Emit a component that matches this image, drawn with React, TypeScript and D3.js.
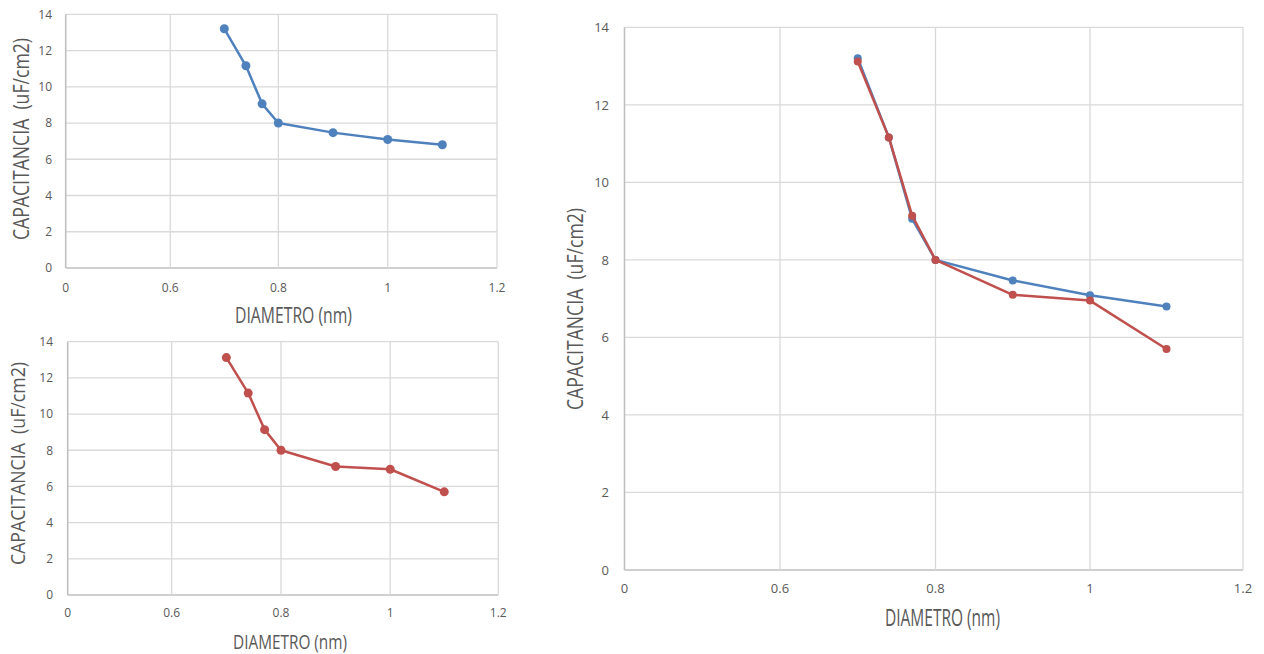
import React from "react";
import * as d3 from "d3";

// Diámetro de poro (nm) y capacitancia específica (uF/cm2)
const diametro = [0.7, 0.74, 0.77, 0.8, 0.9, 1.0, 1.1];
const capacitanciaAzul = [13.2, 11.16, 9.06, 8.0, 7.47, 7.09, 6.8];
const capacitanciaRoja = [13.12, 11.16, 9.14, 8.0, 7.1, 6.95, 5.7];

const xTicks = [0, 0.6, 0.8, 1, 1.2];
const yTicks = [0, 2, 4, 6, 8, 10, 12, 14];

const xTitle = "DIAMETRO (nm)";
const yTitle = "CAPACITANCIA  (uF/cm2)";

const AZUL = "#4f81bd";
const ROJO = "#c0504d";
const GRID = "#d9d9d9";
const AXIS = "#bfbfbf";
const TEXT = "#595959";

type Series = { values: number[]; color: string };

type PanelProps = {
  x0: number;
  x1: number;
  stops: number[]; // fractional position of each x tick across the plot width
  yTop: number;
  yBot: number;
  tickFs: number;
  yTickX: number;
  xTickBase: number;
  xt: { x: number; y: number; fs: number; len: number };
  yt: { x: number; y: number; fs: number; len: number };
  r: number;
  sw: number;
  series: Series[];
};

function Panel(p: PanelProps) {
  // piecewise-linear mapping between the labelled x ticks
  const x = d3
    .scaleLinear()
    .domain(xTicks)
    .range(p.stops.map((f) => p.x0 + f * (p.x1 - p.x0)));
  const y = d3.scaleLinear().domain([0, 14]).range([p.yBot, p.yTop]);
  const line = d3
    .line<number>()
    .x((_, i) => x(diametro[i]))
    .y((v) => y(v));

  return (
    <g>
      {yTicks.map((t) => (
        <line
          key={"gy" + t}
          x1={p.x0}
          x2={p.x1}
          y1={y(t)}
          y2={y(t)}
          stroke={t === 0 ? AXIS : GRID}
          strokeWidth={t === 0 ? 1.6 : 1.3}
        />
      ))}
      {xTicks.map((t) => (
        <line
          key={"gx" + t}
          x1={x(t)}
          x2={x(t)}
          y1={p.yTop}
          y2={p.yBot}
          stroke={t === 0 ? AXIS : GRID}
          strokeWidth={t === 0 ? 1.6 : 1.3}
        />
      ))}
      {yTicks.map((t) => (
        <text
          key={"ty" + t}
          x={p.yTickX}
          y={y(t)}
          dy="0.36em"
          textAnchor="end"
          fontSize={p.tickFs}
          fill={TEXT}
          fontFamily="'Open Sans', sans-serif"
        >
          {t}
        </text>
      ))}
      {xTicks.map((t) => (
        <text
          key={"tx" + t}
          x={x(t)}
          y={p.xTickBase}
          textAnchor="middle"
          fontSize={p.tickFs}
          fill={TEXT}
          fontFamily="'Open Sans', sans-serif"
        >
          {t}
        </text>
      ))}
      <text
        x={p.xt.x}
        y={p.xt.y}
        textAnchor="middle"
        fontSize={p.xt.fs}
        fill={TEXT}
        fontFamily="'Open Sans', sans-serif"
        textLength={p.xt.len}
        lengthAdjust="spacingAndGlyphs"
      >
        {xTitle}
      </text>
      <text
        transform={`translate(${p.yt.x},${p.yt.y}) rotate(-90)`}
        textAnchor="middle"
        fontSize={p.yt.fs}
        fill={TEXT}
        fontFamily="'Open Sans', sans-serif"
        textLength={p.yt.len}
        lengthAdjust="spacingAndGlyphs"
        style={{ whiteSpace: "pre" }}
      >
        {yTitle}
      </text>
      {p.series.map((s, k) => (
        <g key={"s" + k}>
          <path
            d={line(s.values) ?? ""}
            fill="none"
            stroke={s.color}
            strokeWidth={p.sw}
            strokeLinejoin="round"
          />
          {s.values.map((v, i) => (
            <circle key={i} cx={x(diametro[i])} cy={y(v)} r={p.r} fill={s.color} />
          ))}
        </g>
      ))}
    </g>
  );
}

export default function App() {
  const azul = { values: capacitanciaAzul, color: AZUL };
  const roja = { values: capacitanciaRoja, color: ROJO };
  return (
    <svg
      width={1264}
      height={654}
      style={{ position: "absolute", left: 0, top: 0, background: "#fff" }}
    >
      <rect width={1264} height={654} fill="#fff" />
      <Panel
        x0={65.7}
        x1={497}
        stops={[0, 0.2425, 0.493, 0.7466, 1]}
        yTop={14.3}
        yBot={268}
        tickFs={12}
        yTickX={52}
        xTickBase={292}
        xt={{ x: 293.5, y: 323, fs: 21, len: 117 }}
        yt={{ x: 28.5, y: 139, fs: 21, len: 202 }}
        r={4.5}
        sw={2.5}
        series={[azul]}
      />
      <Panel
        x0={67.7}
        x1={498.3}
        stops={[0, 0.2415, 0.4954, 0.749, 1]}
        yTop={341.7}
        yBot={595}
        tickFs={12}
        yTickX={53}
        xTickBase={617}
        xt={{ x: 290, y: 649, fs: 20, len: 114 }}
        yt={{ x: 24.5, y: 463.5, fs: 20, len: 203 }}
        r={4.5}
        sw={2.5}
        series={[roja]}
      />
      <Panel
        x0={624.5}
        x1={1243}
        stops={[0, 0.2514, 0.5028, 0.7526, 1]}
        yTop={27.3}
        yBot={570}
        tickFs={13}
        yTickX={609}
        xTickBase={593}
        xt={{ x: 942.5, y: 626, fs: 24, len: 115 }}
        yt={{ x: 582.5, y: 309, fs: 21, len: 202 }}
        r={4}
        sw={2.5}
        series={[azul, roja]}
      />
    </svg>
  );
}
